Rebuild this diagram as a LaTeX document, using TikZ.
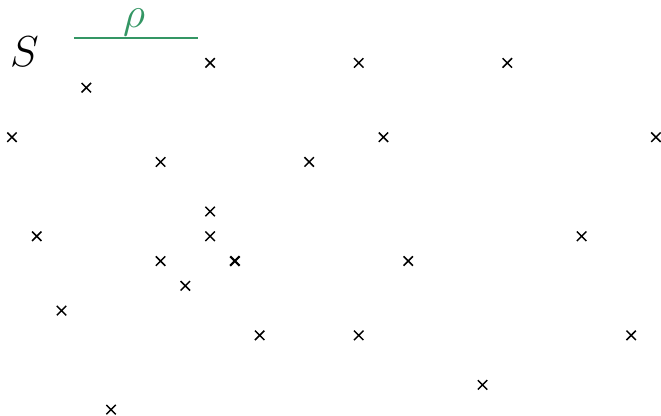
\documentclass[tikz,border=0pt]{standalone}
\usetikzlibrary{shapes.misc}
\definecolor{rhogreen}{RGB}{52,150,100}
\begin{document}
\begin{tikzpicture}[x=0.5cm,y=0.5cm,
  pt/.style={cross out,draw=black,line width=0.85pt,minimum size=0.19cm,inner sep=0pt,outer sep=0pt},
  ptbold/.style={pt,line width=1.25pt},
  bigtext/.style={font=\fontsize{26}{30}\selectfont,inner sep=0pt}]
\useasboundingbox (-0.484,2.54) rectangle (26.206,-14.25);
\node[bigtext] (S) at (0.5,0.46) {$S$};
\coordinate (l0) at (2.5,1.0);
\coordinate (l1) at (7.51,1.0);
\draw[rhogreen,line width=0.85pt] (l0) -- (l1);
\node[bigtext,text=rhogreen] (rho) at (4.93,1.64) {$\rho$};
\foreach \c/\r [count=\i] in {8/0,14/0,20/0,3/1,0/3,15/3,26/3,6/4,12/4,8/6,1/7,8/7,23/7,6/8,16/8,7/9,2/10,10/11,14/11,25/11,19/13,4/14}
  \node[pt] (p\i) at (\c,-\r) {};
\node[ptbold] (pb) at (9,-8) {};
\end{tikzpicture}
\end{document}
